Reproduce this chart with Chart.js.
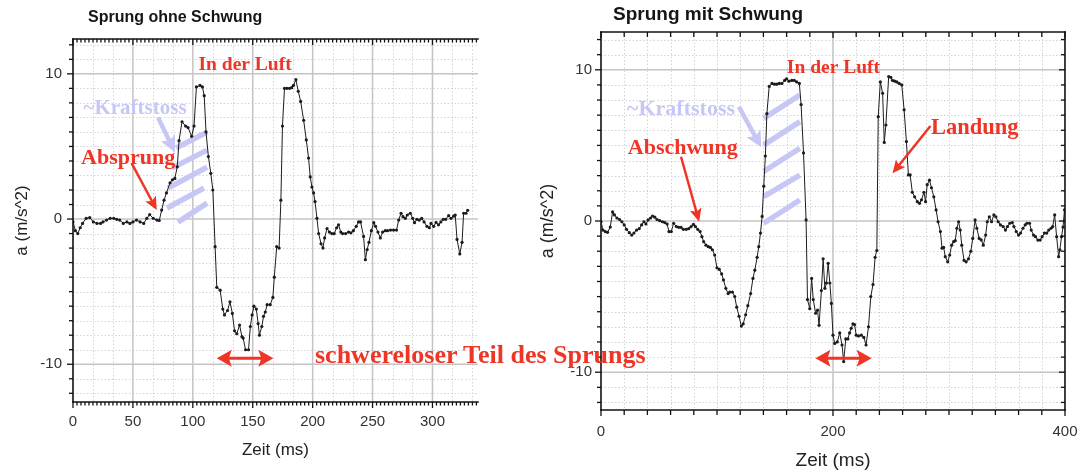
<!DOCTYPE html>
<html><head><meta charset="utf-8">
<script src="https://cdn.jsdelivr.net/npm/chart.js@4.4.1/dist/chart.umd.min.js"></script>
<style>
html,body{margin:0;padding:0;background:#fff;width:1090px;height:473px;overflow:hidden;}
#wrapL{position:absolute;left:0;top:0;width:500px;height:473px;}
#wrapR{position:absolute;left:530px;top:0;width:560px;height:473px;}
#note{position:absolute;left:315px;top:340px;font:bold 26px "Liberation Serif","Times New Roman",serif;color:#ee3526;white-space:nowrap;line-height:30px;z-index:5}
</style></head><body>
<div id="wrapL"><canvas id="cL"></canvas></div>
<div id="wrapR"><canvas id="cR"></canvas></div>
<div id="note">schwereloser Teil des Sprungs</div>
<script>
// ---------- data ----------
const titles = ['Sprung ohne Schwung', 'Sprung mit Schwung'];
const xLabel = 'Zeit (ms)';
const yLabel = 'a (m/s^2)';
const leftXTicks = [0, 50, 100, 150, 200, 250, 300];
const rightXTicks = [0, 200, 400];
const yTicks = [-10, 0, 10];

const leftTime = [0,2,4,6,8,11,14,17,20,23,25,28,31,34,36.5,39,42,45,47.5,50,53,56,59,61.6,64,67,70,72,
 74,76,78,81,83,85,87,88.5,91,94,96,99,101,103,106,108,109.5,111,113,115,116.7,118.6,120,122.8,125,126.4,129,131,133,134.8,136.7,139,141,142,144,146.5,148,149.5,151,153,154.5,155.6,157.6,159,160.5,162,164.6,166.8,168,170,172,173.5,174.8,176.5,178.5,180.7,182.5,184,186,188,190,192.5,194.7,196.6,198,199.4,200.8,202,203.6,205,207,208.6,210,212,214,216,218,220,221.6,223.5,225,227.5,230,232,234,236.4,238.3,240,242.5,244,245.5,247,249,251,252.5,254.5,256.5,258.4,260.6,262.5,265,267.5,270,271.8,273.8,275.4,277.4,279,281.5,283.5,285,287,289,291,293,295.4,297.4,298.8,301,303,305,307,309,311,313.5,315.5,317.7,319,320.5,322.8,324.7,326,328,329.4];
const leftAccel = [-0.2,-0.8,-1.0,-0.6,-0.3,0.05,0.1,-0.2,-0.3,-0.3,-0.2,-0.07,0.05,0.05,-0.02,-0.07,-0.3,-0.2,-0.3,-0.2,-0.07,-0.2,-0.3,0.05,0.3,0.05,-0.07,-0.1,
 0.62,1.3,1.8,2.5,2.7,2.8,3.6,5.4,6.7,6.4,6.3,5.7,6.4,9.1,9.2,9.1,8.5,6.0,4.3,3.15,2.0,-1.9,-4.7,-4.9,-6.2,-6.6,-6.3,-5.7,-6.5,-7.7,-7.9,-7.3,-8.1,-8.2,-9.0,-9.0,-7.4,-6.6,-6.0,-6.2,-7.2,-8.0,-7.4,-6.7,-6.4,-5.9,-5.9,-5.4,-4.0,-1.9,-2.0,1.3,6.4,9.0,9.0,9.0,9.05,9.2,9.6,8.8,8.1,6.8,5.45,4.2,2.9,2.2,1.8,1.2,0.05,-1.0,-1.7,-2.0,-1.3,-0.65,-0.9,-1.0,-1.0,-0.6,-0.4,-0.9,-1.0,-1.0,-0.9,-0.95,-0.8,-0.5,-0.2,-0.2,-1.2,-2.8,-2.1,-1.6,-0.8,-0.25,-0.5,-0.9,-1.3,-0.9,-0.8,-0.8,-0.76,-0.76,-0.76,-0.07,0.4,0.16,0.05,0.28,0.4,0.05,-0.25,-0.02,-0.07,0.05,-0.2,-0.5,-0.6,-0.3,-0.5,-0.23,-0.4,-0.2,-0.02,-0.02,0.23,0.05,0.2,0.28,-1.4,-2.4,-1.6,0.4,0.4,0.6];

const rightTime = [0,1.7,3.7,5.6,8,10,11.6,13.7,16,18,20,22,24.4,26.5,28.4,30.7,33,35,37,38.7,40.6,42.7,44.4,46.4,48.3,50.6,53,55,57,58.6,60.6,62.6,65,67,69,71,73.5,75.7,77.7,79.7,81.4,83.4,85.4,87,88.5,90.5,92.5,94.3,96,98,100,102,104,105.6,107.6,109.6,111,113.3,115.3,117,119,121,122.6,124.7,126.6,129,131,132.6,134.6,136,137.5,138.9,140.3,141.7,143,145,147.4,149.6,151.6,153.7,156,158.3,160,162,164.5,166.6,168.7,171,172.5,174.6,176.8,178,180,181.6,183,185,186.7,188,190,191.5,193,194.4,195.8,197.3,198.6,200,201.5,203.7,205.8,207.8,209.2,211,212.8,214.3,215.7,217.2,218.6,220,222,224.4,226.6,228.5,230.6,232.6,234.5,236.3,237.8,239,240.8,242.8,244.2,245.6,248,249.8,251.3,253.2,255,257,259.3,261.3,263.3,265,266.5,268.4,270.4,272.7,274.6,276.3,278.4,279.8,281.2,283.2,284.9,286.9,288.9,290.6,292.6,294,295.4,296.8,298.9,300.6,302.3,304,305.4,306.8,308.3,309.7,311,313,314.8,316.8,318.8,320.5,322.5,324,326,327.8,329.6,331.6,333,334.8,336.7,338.7,340.4,342.4,344.4,346.7,348.7,350.4,352.4,354.6,356,358,360,361.7,363.8,365.7,367.2,369.4,370.9,372.9,374.6,376.6,378.6,380.3,382.3,384.3,386,388,389.4,391.1,392.8,394.5,395.6,397,398.3,399.6];
const rightAccel = [-0.05,-0.6,-0.7,-0.75,-0.4,0.6,0.4,0.2,0.1,-0.05,-0.26,-0.55,-0.77,-0.93,-0.8,-0.6,-0.5,-0.26,-0.05,-0.2,0.07,0.2,0.33,0.25,0.1,0.02,-0.05,-0.1,-0.2,-0.7,-0.7,-0.15,-0.37,-0.42,-0.42,-0.55,-0.55,-0.5,-0.37,-0.22,-0.37,-0.55,-0.7,-1.04,-1.37,-1.6,-1.7,-1.75,-1.9,-2.25,-3.1,-3.2,-3.5,-3.9,-4.45,-4.8,-4.7,-4.7,-5.0,-5.7,-6.3,-6.95,-6.8,-6.2,-5.6,-4.8,-3.8,-3.25,-2.4,-1.7,-0.8,0.3,2.3,4.3,7.1,8.9,9.1,9.05,9.05,9.1,9.1,9.3,9.4,9.25,9.3,9.3,9.2,9.1,7.7,4.5,0.07,-5.2,-5.8,-3.8,-5.2,-6.1,-5.9,-6.9,-4.6,-2.5,-4.45,-4.1,-2.8,-4.1,-5.45,-7.55,-8.1,-8.0,-7.4,-8.2,-9.3,-7.8,-7.8,-7.4,-7.1,-6.8,-6.85,-7.55,-7.6,-7.55,-7.7,-8.2,-7.0,-5.0,-4.2,-2.4,-1.95,6.9,9.2,8.45,5.2,6.35,9.55,9.5,9.3,9.25,9.2,9.1,9.0,7.35,5.25,3.05,3.05,1.9,1.6,1.28,1.17,1.4,1.9,1.28,2.4,2.7,2.2,1.6,0.73,-0.05,-0.7,-1.8,-1.75,-2.36,-2.7,-2.25,-1.6,-1.37,-1.3,-0.48,-0.05,-0.6,-1.6,-2.6,-2.7,-2.5,-2.0,-1.15,0.07,-0.48,-1.15,-1.25,-1.6,-0.93,-0.05,0.28,-0.05,0.4,0.28,-0.05,-0.26,-0.37,-0.6,-0.37,-0.15,-0.1,-0.37,-0.7,-0.93,-0.8,-0.48,-0.26,-0.15,-0.15,-0.6,-0.93,-1.04,-1.26,-1.26,-1.04,-0.8,-0.8,-0.6,-0.48,-0.37,0.4,-1.04,-2.36,-1.9,-1.04,-0.4,0.73];

// ---------- styling / annotation layout ----------
const RED = '#ee3526';
const LAV = '#c7c7f6';
const SANS = '"Liberation Sans", Arial, Helvetica, sans-serif';
const SERIF = '"Liberation Serif", "Times New Roman", serif';

const leftDecor = {
  title: {text: titles[0], px: 88, py: 18, size: 16},
  majorX: 50, gridX: 50/3, tickX: 50/15, majorY: 10, rightBorder: false,
  notes: [
    {text: 'In der Luft', x: 143.6, y: 10.6, color: RED, size: 19.5},
    {text: '~Kraftstoss', x: 51.8, y: 7.64, color: LAV, size: 21},
    {text: 'Absprung', x: 46, y: 4.2, color: RED, size: 22}
  ],
  arrows: [
    {x1: 49, y1: 3.84, x2: 69.9, y2: 0.62, color: RED, lw: 2.5, hl: 13, hw: 12},
    {x1: 71, y1: 7.0, x2: 85, y2: 4.6, color: LAV, lw: 4.5, hl: 16, hw: 16}
  ],
  stripes: [[86,4.89,111.9,5.99],[82.6,3.51,111.9,4.75],[79.3,2.13,111.9,3.58],[78.5,0.76,109.3,2.13],[87.6,-0.21,111.9,1.10]],
  span: {x1: 120, x2: 167.2, y: -9.59}
};
const rightDecor = {
  title: {text: titles[1], px: 83, py: 15, size: 19},
  majorX: 200, gridX: 20, tickX: 20, majorY: 10, rightBorder: true,
  notes: [
    {text: 'In der Luft', x: 200.4, y: 10.15, color: RED, size: 19.5},
    {text: '~Kraftstoss', x: 69, y: 7.4, color: LAV, size: 22},
    {text: 'Abschwung', x: 70.5, y: 4.83, color: RED, size: 22},
    {text: 'Landung', x: 322.2, y: 6.15, color: RED, size: 22.5}
  ],
  arrows: [
    {x1: 69, y1: 4.25, x2: 84.6, y2: -0.05, color: RED, lw: 2.5, hl: 13, hw: 12},
    {x1: 118.8, y1: 7.56, x2: 138.2, y2: 4.87, color: LAV, lw: 4.5, hl: 16, hw: 16},
    {x1: 284, y1: 6.28, x2: 251.3, y2: 3.15, color: RED, lw: 2.5, hl: 13, hw: 12}
  ],
  stripes: [[140.2,6.79,171.5,8.33],[140.2,5.02,171.5,6.57],[140.2,3.27,171.5,4.81],[140.2,1.61,171.5,3.04],[140.2,-0.15,171.5,1.39]],
  span: {x1: 184.9, x2: 233.3, y: -9.08}
};

function drawHead(ctx, x, y, ang, hl, hw) {
  const c = Math.cos(ang), s = Math.sin(ang);
  ctx.beginPath();
  ctx.moveTo(x, y);
  ctx.lineTo(x - hl * c + hw / 2 * s, y - hl * s - hw / 2 * c);
  ctx.lineTo(x - hl * c * 0.8, y - hl * s * 0.8);
  ctx.lineTo(x - hl * c - hw / 2 * s, y - hl * s + hw / 2 * c);
  ctx.closePath();
  ctx.fill();
}
function drawArrow(ctx, x1, y1, x2, y2, color, lw, hl, hw, dbl) {
  const ang = Math.atan2(y2 - y1, x2 - x1);
  const c = Math.cos(ang), s = Math.sin(ang);
  ctx.strokeStyle = color; ctx.fillStyle = color; ctx.lineWidth = lw; ctx.lineCap = 'butt';
  ctx.beginPath();
  ctx.moveTo(dbl ? x1 + c * hl * 0.7 : x1, dbl ? y1 + s * hl * 0.7 : y1);
  ctx.lineTo(x2 - c * hl * 0.7, y2 - s * hl * 0.7);
  ctx.stroke();
  drawHead(ctx, x2, y2, ang, hl, hw);
  if (dbl) drawHead(ctx, x1, y1, ang + Math.PI, hl, hw);
}
function seg(ctx, a, b, c, d) { ctx.beginPath(); ctx.moveTo(a, b); ctx.lineTo(c, d); ctx.stroke(); }
function isMult(v, m) { const r = v / m; return Math.abs(r - Math.round(r)) < 1e-6; }

function decorPlugin(cfg, id) {
  return {
    id: 'decor' + id,
    beforeDatasetsDraw(chart) {
      const ctx = chart.ctx, a = chart.chartArea, xs = chart.scales.x, ys = chart.scales.y;
      ctx.save();
      // minor dotted grid
      ctx.strokeStyle = '#d4d4d4'; ctx.lineWidth = 1; ctx.setLineDash([1.5, 2]);
      for (let i = 1; ; i++) {
        const v = i * cfg.gridX; if (v >= xs.max - 1e-6) break;
        if (isMult(v, cfg.majorX)) continue;
        const p = Math.round(xs.getPixelForValue(v)) + 0.5; seg(ctx, p, a.top, p, a.bottom);
      }
      for (let v = Math.ceil(ys.min); v <= ys.max; v++) {
        if (v % cfg.majorY === 0) continue;
        const p = Math.round(ys.getPixelForValue(v)) + 0.5; seg(ctx, a.left, p, a.right, p);
      }
      ctx.setLineDash([]);
      // major grid
      ctx.strokeStyle = '#c4c4c4'; ctx.lineWidth = 1.5;
      for (let i = 1; ; i++) {
        const v = i * cfg.majorX; if (v >= xs.max - 1e-6) break;
        const p = xs.getPixelForValue(v); seg(ctx, p, a.top, p, a.bottom);
      }
      yTicks.forEach(v => { const p = ys.getPixelForValue(v); seg(ctx, a.left, p, a.right, p); });
      // hatch stripes
      ctx.strokeStyle = LAV; ctx.lineWidth = 5.5; ctx.lineCap = 'butt';
      cfg.stripes.forEach(s => seg(ctx, xs.getPixelForValue(s[0]), ys.getPixelForValue(s[1]), xs.getPixelForValue(s[2]), ys.getPixelForValue(s[3])));
      ctx.restore();
    },
    afterDatasetsDraw(chart) {
      const ctx = chart.ctx, a = chart.chartArea, xs = chart.scales.x, ys = chart.scales.y;
      ctx.save();
      // borders
      ctx.strokeStyle = '#111'; ctx.lineWidth = 1.6; ctx.lineCap = 'square';
      seg(ctx, a.left, a.top, a.left, a.bottom);
      seg(ctx, a.left, a.bottom, a.right, a.bottom);
      seg(ctx, a.left, a.top, a.right, a.top);
      if (cfg.rightBorder) seg(ctx, a.right, a.top, a.right, a.bottom);
      ctx.lineCap = 'butt'; ctx.lineWidth = 1.3;
      // x ticks
      for (let i = 0; ; i++) {
        const v = i * cfg.tickX; if (v > xs.max + 1e-6) break;
        const p = xs.getPixelForValue(v); const major = isMult(v, cfg.majorX);
        const L = major ? 6 : (cfg.tickX === cfg.gridX ? 5 : 3.5);
        seg(ctx, p, a.bottom, p, a.bottom + L);
        seg(ctx, p, a.top, p, a.top + L);
      }
      // y ticks
      for (let v = Math.ceil(ys.min); v <= ys.max; v++) {
        const p = ys.getPixelForValue(v); const L = v % cfg.majorY === 0 ? 6 : 4;
        seg(ctx, a.left - L, p, a.left, p);
        if (cfg.rightBorder) seg(ctx, a.right - L, p, a.right, p);
      }
      // notes
      ctx.textAlign = 'center'; ctx.textBaseline = 'middle';
      cfg.notes.forEach(n => {
        ctx.font = 'bold ' + n.size + 'px ' + SERIF; ctx.fillStyle = n.color;
        ctx.fillText(n.text, xs.getPixelForValue(n.x), ys.getPixelForValue(n.y));
      });
      cfg.arrows.forEach(r => drawArrow(ctx, xs.getPixelForValue(r.x1), ys.getPixelForValue(r.y1), xs.getPixelForValue(r.x2), ys.getPixelForValue(r.y2), r.color, r.lw, r.hl, r.hw, false));
      const sp = cfg.span;
      drawArrow(ctx, xs.getPixelForValue(sp.x1), ys.getPixelForValue(sp.y), xs.getPixelForValue(sp.x2), ys.getPixelForValue(sp.y), RED, 3, 15, 17, true);
      // title
      ctx.textAlign = 'left'; ctx.textBaseline = 'middle'; ctx.fillStyle = '#151515';
      ctx.font = 'bold ' + cfg.title.size + 'px ' + SANS;
      ctx.fillText(cfg.title.text, cfg.title.px, cfg.title.py);
      ctx.restore();
    }
  };
}

function makeChart(id, o) {
  return new Chart(document.getElementById(id), {
    type: 'line',
    data: {datasets: [{
      data: o.time.map((t, i) => ({x: t, y: o.acc[i]})),
      borderColor: '#1c1c1c', borderWidth: 1, pointRadius: 1.6, pointBackgroundColor: '#1c1c1c',
      pointBorderWidth: 0, pointHoverRadius: 0, tension: 0, fill: false
    }]},
    options: {
      responsive: true, maintainAspectRatio: false, animation: false, events: [],
      layout: {padding: {left: 0, right: o.padRight, top: o.padTop, bottom: 0}},
      plugins: {legend: {display: false}, tooltip: {enabled: false}, title: {display: false}},
      scales: {
        x: {
          type: 'linear', min: 0, max: o.xMax,
          grid: {display: false, drawTicks: false}, border: {display: false},
          afterBuildTicks: s => { s.ticks = o.xTicks.map(v => ({value: v})); },
          afterFit: s => { s.height = o.xAxisH; },
          ticks: {padding: o.xTickPad, font: {family: SANS, size: 15}, color: '#333', maxRotation: 0, autoSkip: false},
          title: {display: true, text: xLabel, font: {family: SANS, size: o.xTitleSize}, color: '#222', padding: o.xTitlePad}
        },
        y: {
          type: 'linear', min: o.yMin, max: o.yMax,
          grid: {display: false, drawTicks: false}, border: {display: false},
          afterBuildTicks: s => { s.ticks = yTicks.map(v => ({value: v})); },
          afterFit: s => { s.width = o.yAxisW; },
          ticks: {padding: o.yTickPad, font: {family: SANS, size: 15}, color: '#333', autoSkip: false},
          title: {display: true, text: yLabel, font: {family: SANS, size: o.yTitleSize}, color: '#222', padding: o.yTitlePad}
        }
      }
    },
    plugins: [decorPlugin(o.decor, id)]
  });
}

makeChart('cL', {time: leftTime, acc: leftAccel, xTicks: leftXTicks, xMax: 338, yMin: -12.6, yMax: 12.4,
  padRight: 22, padTop: 39, xAxisH: 71, yAxisW: 73, xTickPad: 11, yTickPad: 11,
  xTitleSize: 17, xTitlePad: 12.8, yTitleSize: 17, yTitlePad: 11.8, decor: leftDecor});
makeChart('cR', {time: rightTime, acc: rightAccel, xTicks: rightXTicks, xMax: 400, yMin: -12.5, yMax: 12.5,
  padRight: 21, padTop: 32, xAxisH: 63, yAxisW: 71, xTickPad: 12.5, yTickPad: 9,
  xTitleSize: 19, xTitlePad: 0.5, yTitleSize: 18, yTitlePad: 7.2, decor: rightDecor});
</script>
</body></html>
